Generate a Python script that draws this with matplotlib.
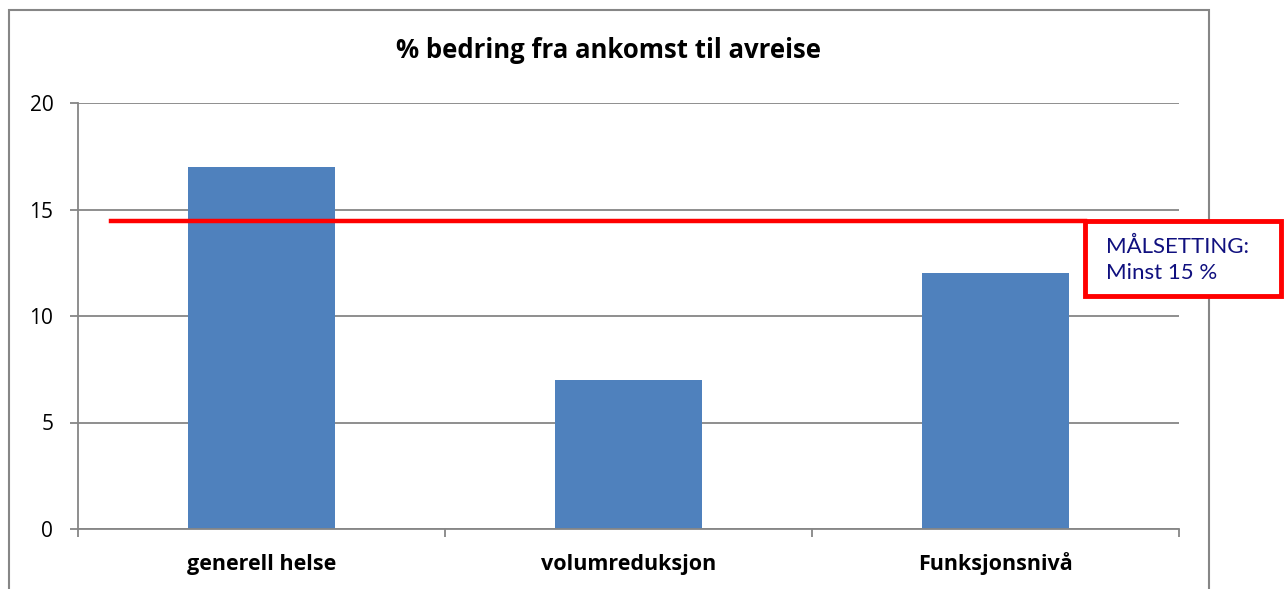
import matplotlib
matplotlib.use("Agg")
import matplotlib.pyplot as plt
from matplotlib.patches import Rectangle

categories = ["generell helse", "volumreduksjon", "Funksjonsnivå"]
values = [17, 7, 12]
yticks = [0, 5, 10, 15, 20]
target_line = 14.45
title = "% bedring fra ankomst til avreise"
box_lines = ["MÅLSETTING:", "Minst 15 %"]

W, H = 1287, 589
fig = plt.figure(figsize=(W / 100, H / 100), dpi=100)
ax = fig.add_axes([78 / W, 1 - 529 / H, (1179 - 78) / W, (529 - 103) / H])

grid_c = "#868686"
x = range(len(categories))
ax.bar(x, values, width=0.4, color="#4F81BD", zorder=2)
ax.set_xlim(-0.5, 2.5)
ax.set_ylim(0, 20)
ax.set_yticks(yticks)
ax.set_yticklabels([str(v) for v in yticks], fontsize=15, family="Open Sans")
ax.yaxis.grid(True, color=grid_c, linewidth=1.3, zorder=0)
ax.set_axisbelow(True)

ax.set_xticks([-0.5, 0.5, 1.5, 2.5])
ax.set_xticklabels([])
ax.set_xticks(list(x), minor=True)
ax.set_xticklabels(categories, minor=True, fontsize=15.5, fontweight="bold",
                   family="Open Sans", va="baseline")
ax.tick_params(axis="x", which="minor", length=0, pad=29.5)
ax.tick_params(axis="x", which="major", length=5.8, width=1.3, color=grid_c, direction="out")
ax.tick_params(axis="y", length=5.8, width=1.3, color=grid_c, direction="out", pad=12)

for s in ["top", "right"]:
    ax.spines[s].set_visible(False)
for s in ["left", "bottom"]:
    ax.spines[s].set_color(grid_c)
    ax.spines[s].set_linewidth(1.3)

# target line
x0 = -0.5 + (111 - 78) / 367
x1 = -0.5 + (1085 - 78) / 367
ax.plot([x0, x1], [target_line, target_line], color="#FF0000", linewidth=3.2, zorder=5, clip_on=False)

fig.text(609 / W, 1 - 50 / H, title, ha="center", va="center", fontsize=18.5, fontweight="bold", family="Open Sans")

# outer chart frame
fig.patches.append(Rectangle((9 / W, -0.05), (1209 - 9) / W, 1.05 - 10 / H,
                             transform=fig.transFigure, fill=False,
                             edgecolor=grid_c, linewidth=1.5, zorder=0))

# target box
fig.patches.append(Rectangle((1085 / W, 1 - 296 / H), (1281 - 1085) / W, (296 - 221) / H,
                             transform=fig.transFigure, facecolor="white",
                             edgecolor="#FF0000", linewidth=3.5, zorder=6))
for i, line in enumerate(box_lines):
    fig.text(1106 / W, 1 - (247 + 26 * i) / H, line, ha="left", va="center", fontsize=16,
             color="#10107F", family="Lato", zorder=7)

fig.savefig("out.png", dpi=100)
